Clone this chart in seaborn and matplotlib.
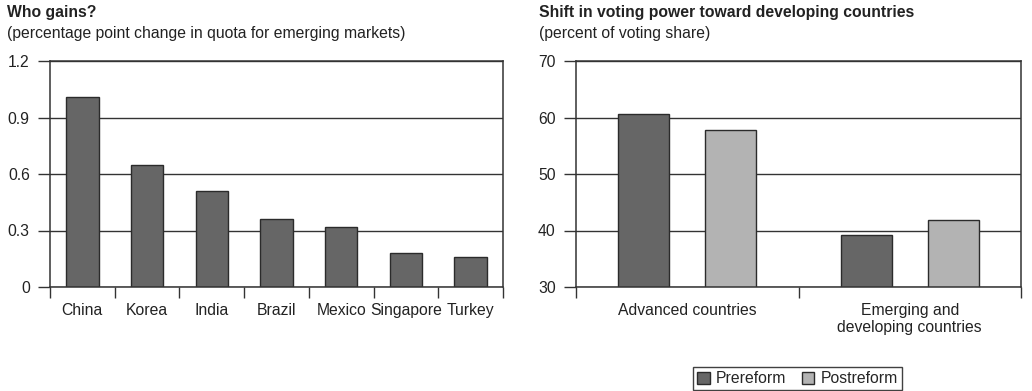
import matplotlib
matplotlib.use("Agg")
import matplotlib.pyplot as plt
import seaborn as sns
import pandas as pd
import numpy as np

# Quota gains by economy (percentage points)
countries = ["China", "Korea", "India", "Brazil", "Mexico", "Singapore", "Turkey"]
quota_change = [1.01, 0.65, 0.51, 0.36, 0.32, 0.18, 0.16]
quota_ticks = [0, 0.3, 0.6, 0.9, 1.2]
quota_ticklabels = ["0", "0.3", "0.6", "0.9", "1.2"]

# Voting share before and after reform (percent)
groups = ["Advanced countries", "Emerging and\ndeveloping countries"]
periods = ["Prereform", "Postreform"]
prereform_share = [60.6, 39.2]
postreform_share = [57.7, 41.9]
share_ticks = [30, 40, 50, 60, 70]

sns.set_theme(style="white")
plt.rcParams["font.family"] = ["Liberation Sans", "DejaVu Sans"]

DARK = "#666666"
LIGHT = "#b3b3b3"
EDGE = "#2b2b2b"
LINE = "#333333"
FS = 11.3

fig = plt.figure(figsize=(10.32, 3.91), dpi=100)
W, H = 1032, 391
ax1 = fig.add_axes([50 / W, 1 - 287 / H, (503 - 50) / W, (287 - 61) / H])
ax2 = fig.add_axes([576 / W, 1 - 287 / H, (1021 - 576) / W, (287 - 61) / H])


def style_axes(ax, n_cats, yticks, ylabels, ylim):
    ax.set_ylim(*ylim)
    ax.set_xlim(-0.5, n_cats - 0.5)
    ax.set_yticks(yticks)
    ax.set_yticklabels(ylabels)
    ax.yaxis.grid(True, color=LINE, linewidth=1.0)
    ax.set_axisbelow(True)
    for sp in ax.spines.values():
        sp.set_visible(True)
        sp.set_color(LINE)
        sp.set_linewidth(1.1)
    ax.tick_params(axis="y", which="major", direction="out", length=8.5, width=1.0,
                   color=LINE, pad=6, labelsize=FS, labelcolor="#222222", left=True)
    ax.tick_params(axis="x", which="major", length=0, pad=11.5, labelsize=FS,
                   labelcolor="#222222")
    for lbl in ax.get_xticklabels():
        lbl.set_linespacing(1.15)
    # category separators below the baseline
    ax.set_xticks(np.arange(-0.5, n_cats, 1.0), minor=True)
    ax.tick_params(axis="x", which="minor", direction="out", length=8, width=1.0,
                   color=LINE, bottom=True)
    ax.set_xlabel("")
    ax.set_ylabel("")


# Left panel: quota change
quota_df = pd.DataFrame({"country": countries, "change": quota_change})
sns.barplot(data=quota_df, x="country", y="change", color=DARK, width=0.5,
            edgecolor=EDGE, linewidth=1.0, saturation=1, ax=ax1)
style_axes(ax1, len(countries), quota_ticks, quota_ticklabels, (0, 1.2))

# Right panel: voting share
share_df = pd.DataFrame({
    "group": groups * 2,
    "period": [periods[0]] * 2 + [periods[1]] * 2,
    "share": prereform_share + postreform_share,
})
sns.barplot(data=share_df, x="group", y="share", hue="period", hue_order=periods,
            palette=[DARK, LIGHT], width=0.78, gap=0.41, edgecolor=EDGE,
            linewidth=1.0, saturation=1, ax=ax2)
style_axes(ax2, len(groups), share_ticks, [str(t) for t in share_ticks], (30, 70))

handles, labels = ax2.get_legend_handles_labels()
ax2.get_legend().remove()
leg = fig.legend(handles, labels, loc="center", bbox_to_anchor=(797.5 / W, 1 - 378.5 / H),
                 ncol=2, frameon=True, fancybox=False, fontsize=FS,
                 handlelength=0.8, handleheight=0.8, handletextpad=0.4,
                 columnspacing=1.0, borderpad=0.25)
leg.get_frame().set_edgecolor("#111111")
leg.get_frame().set_linewidth(1.0)

# Panel titles
fig.text(7 / W, 1 - 17.5 / H, "Who gains?", fontsize=FS, fontweight="bold",
         color="#222222", va="baseline", ha="left")
fig.text(7 / W, 1 - 38 / H, "(percentage point change in quota for emerging markets)",
         fontsize=FS, color="#222222", va="baseline", ha="left")
fig.text(539 / W, 1 - 17.5 / H, "Shift in voting power toward developing countries",
         fontsize=FS, fontweight="bold", color="#222222", va="baseline", ha="left")
fig.text(539 / W, 1 - 38 / H, "(percent of voting share)",
         fontsize=FS, color="#222222", va="baseline", ha="left")

fig.savefig("out.png", dpi=100, facecolor="white")
